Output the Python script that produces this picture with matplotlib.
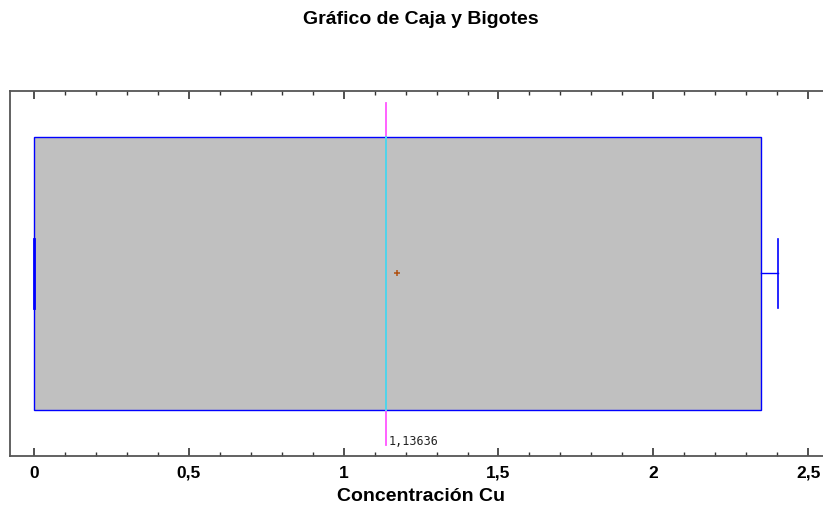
import matplotlib
matplotlib.use("Agg")
import matplotlib.pyplot as plt
from matplotlib.patches import Rectangle
from matplotlib.ticker import MultipleLocator, FuncFormatter

# Data
minimum = 0.0
q1 = 0.0
median = 1.13636
q3 = 2.347
maximum = 2.403
mean = 1.1715
major_ticks = [0, 0.5, 1, 1.5, 2, 2.5]
median_label = "1,13636"

title = "Gráfico de Caja y Bigotes"
xlabel = "Concentración Cu"

plt.rcParams['font.family'] = ['Liberation Sans', 'DejaVu Sans']

fig = plt.figure(figsize=(8.23, 5.08), dpi=100)
ax = fig.add_axes([0.01215, 0.1024, 0.98785, 0.7185])
ax.set_xlim(-0.0775, 2.548)
ax.set_ylim(0, 1)

yc = 0.5
box_h = 0.75
cap_h = 0.19

# Box
ax.add_patch(Rectangle((q1, yc - box_h / 2), q3 - q1, box_h,
                       facecolor='#C0C0C0', edgecolor='#0000FF', linewidth=1.0, zorder=2))
# Median (magenta full length, cyan inside box)
ax.plot([median, median], [0.03, 0.968], color='#FF55FF', lw=1.3, zorder=3)
ax.plot([median, median], [yc - box_h / 2, yc + box_h / 2], color='#40E0E8', lw=1.3, zorder=4)
# Whiskers
ax.plot([q3, maximum], [yc, yc], color='#0000FF', lw=1.0, zorder=3)
ax.plot([maximum, maximum], [yc - cap_h / 2, yc + cap_h / 2], color='#0000FF', lw=1.2, zorder=3)
ax.plot([minimum, q1], [yc, yc], color='#0000FF', lw=1.0, zorder=3)
ax.plot([minimum, minimum], [yc - cap_h / 2, yc + cap_h / 2], color='#0000FF', lw=2.0, zorder=3)
# Mean
ax.plot([mean], [yc], marker='+', color='#B05010', markersize=5, mew=1.1, zorder=5)

# Median label
ax.annotate(median_label, xy=(median, 0.04), xytext=(2, 0), textcoords='offset points',
            fontsize=8.5, family='DejaVu Sans Mono', color='#222222', va='center', ha='left')

# Axes styling
ax.xaxis.set_major_locator(MultipleLocator(0.5))
ax.xaxis.set_minor_locator(MultipleLocator(0.1))
ax.xaxis.set_major_formatter(FuncFormatter(lambda v, p: ('%g' % v).replace('.', ',')))
ax.set_xticks(major_ticks)
ax.set_yticks([])
ax.tick_params(axis='x', which='major', direction='in', length=6, width=1.2,
               top=True, bottom=True, color='#333333', labelsize=12.5, pad=7)
ax.tick_params(axis='x', which='minor', direction='in', length=3, width=1.0,
               top=True, bottom=True, color='#333333')
for lbl in ax.get_xticklabels():
    lbl.set_fontweight('bold')
for s in ['left', 'top', 'bottom']:
    ax.spines[s].set_color('#555555')
    ax.spines[s].set_linewidth(1.3)
ax.spines['right'].set_visible(False)

ax.set_xlabel(xlabel, fontsize=14, fontweight='bold')
ax.xaxis.set_label_coords(0.506, -0.088)
fig.text(0.511, 0.962, title, ha='center', va='center', fontsize=14, fontweight='bold')

fig.savefig('out.png', dpi=100)
